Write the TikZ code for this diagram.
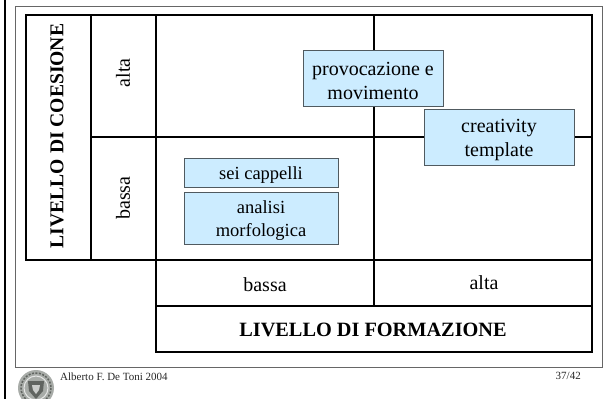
\documentclass[tikz,border=0pt]{standalone}
\usepackage{fontspec}
\setmainfont{Liberation Serif}
\definecolor{boxblue}{HTML}{CCECFF}
\definecolor{boxline}{HTML}{505A60}
\definecolor{sealgrey}{HTML}{A8ACA8}
\definecolor{sealdark}{HTML}{606460}
\tikzset{
	matrixpicture/.style = {
		x = 1pt,
		y = -1pt,
		grid/.style = {
			draw,
			line width = 1.5pt,
		}
	},
	cell/.style = {
		font = \fontsize{20}{22}\selectfont,
		inner sep = 0pt
	},
	title/.style = {
		font = \fontsize{20.3}{22}\selectfont\bfseries,
		inner sep = 0pt
	},
	method/.style = {
		draw = boxline,
		fill = boxblue,
		line width = 0.8pt,
		inner sep = 0pt
	},
	methodtext/.style = {
		align = center,
		inner sep = 0pt,
		yshift = -3pt,
		font = \fontsize{20}{23.5}\selectfont
	},
	smalltext/.style = {
		methodtext,
		font = \fontsize{18.5}{23}\selectfont
	},
	footer/.style = {
		font = \fontsize{11}{12}\selectfont,
		text = black!85,
		inner sep = 0pt
	}
}

\begin{document}
\begin{tikzpicture}[matrixpicture]
	\useasboundingbox (0,0) rectangle (608,399);
	\fill[white] (0,0) rectangle (608,399);

	% page frame
	\draw[line width = 2.5pt] (5,0) -- (5,399);
	\draw[black!60, line width = 1pt] (15,6) rectangle (602,367);

	% grid
	\begin{scope}[every path/.style = grid]
		\path (26,15) rectangle (592,260);
		\path (156,260) rectangle (592,352);
		\path (91,15) -- (91,260);
		\path (156,15) -- (156,260);
		\path (374,15) -- (374,306);
		\path (91,137) -- (592,137);
		\path (156,306) -- (592,306);
	\end{scope}

	% headers
	\node[title, font = \fontsize{19.6}{22}\selectfont\bfseries, rotate = 90] (coesione) at (57,136) {LIVELLO DI COESIONE};
	\node[cell, rotate = 90] (coesalta) at (123,73) {alta};
	\node[cell, rotate = 90] (coesbassa) at (123,198) {bassa};
	\node[cell] (formbassa) at (265,285) {bassa};
	\node[cell] (formalta) at (484,283) {alta};
	\node[title] (formazione) at (373,330) {LIVELLO DI FORMAZIONE};

	% methods
	\node[method, minimum width = 140pt, minimum height = 56pt, label = {[methodtext]center:{provocazione e\\movimento}}] (provocazione) at (373,78) {};
	\node[method, minimum width = 150pt, minimum height = 56pt, label = {[methodtext]center:{creativity\\template}}] (creativity) at (499,137) {};
	\node[method, minimum width = 154pt, minimum height = 29pt, label = {[smalltext]center:{sei cappelli}}] (cappelli) at (261,172.5) {};
	\node[method, minimum width = 154pt, minimum height = 52pt, label = {[smalltext]center:{analisi\\morfologica}}] (analisi) at (261,218) {};

	% footer
	\node[footer, anchor = west] (autore) at (60,377) {Alberto F. De Toni 2004};
	\node[footer, anchor = east] (pagina) at (581,376) {37/42};

	% seal
	\fill[sealgrey] (36,388) circle (18);
	\draw[sealdark, line width = 1.5pt, dash pattern = on 2pt off 1.5pt] (36,388) circle (15);
	\draw[white!70!sealgrey, line width = 1pt] (36,388) circle (12);
	\fill[sealdark] (28,381) -- (44,381) -- (43,391) -- (36,399) -- (29,391) -- cycle;
	\fill[sealgrey!60] (32,385) -- (40,385) -- (39,390) -- (36,394) -- (33,390) -- cycle;
\end{tikzpicture}
\end{document}
